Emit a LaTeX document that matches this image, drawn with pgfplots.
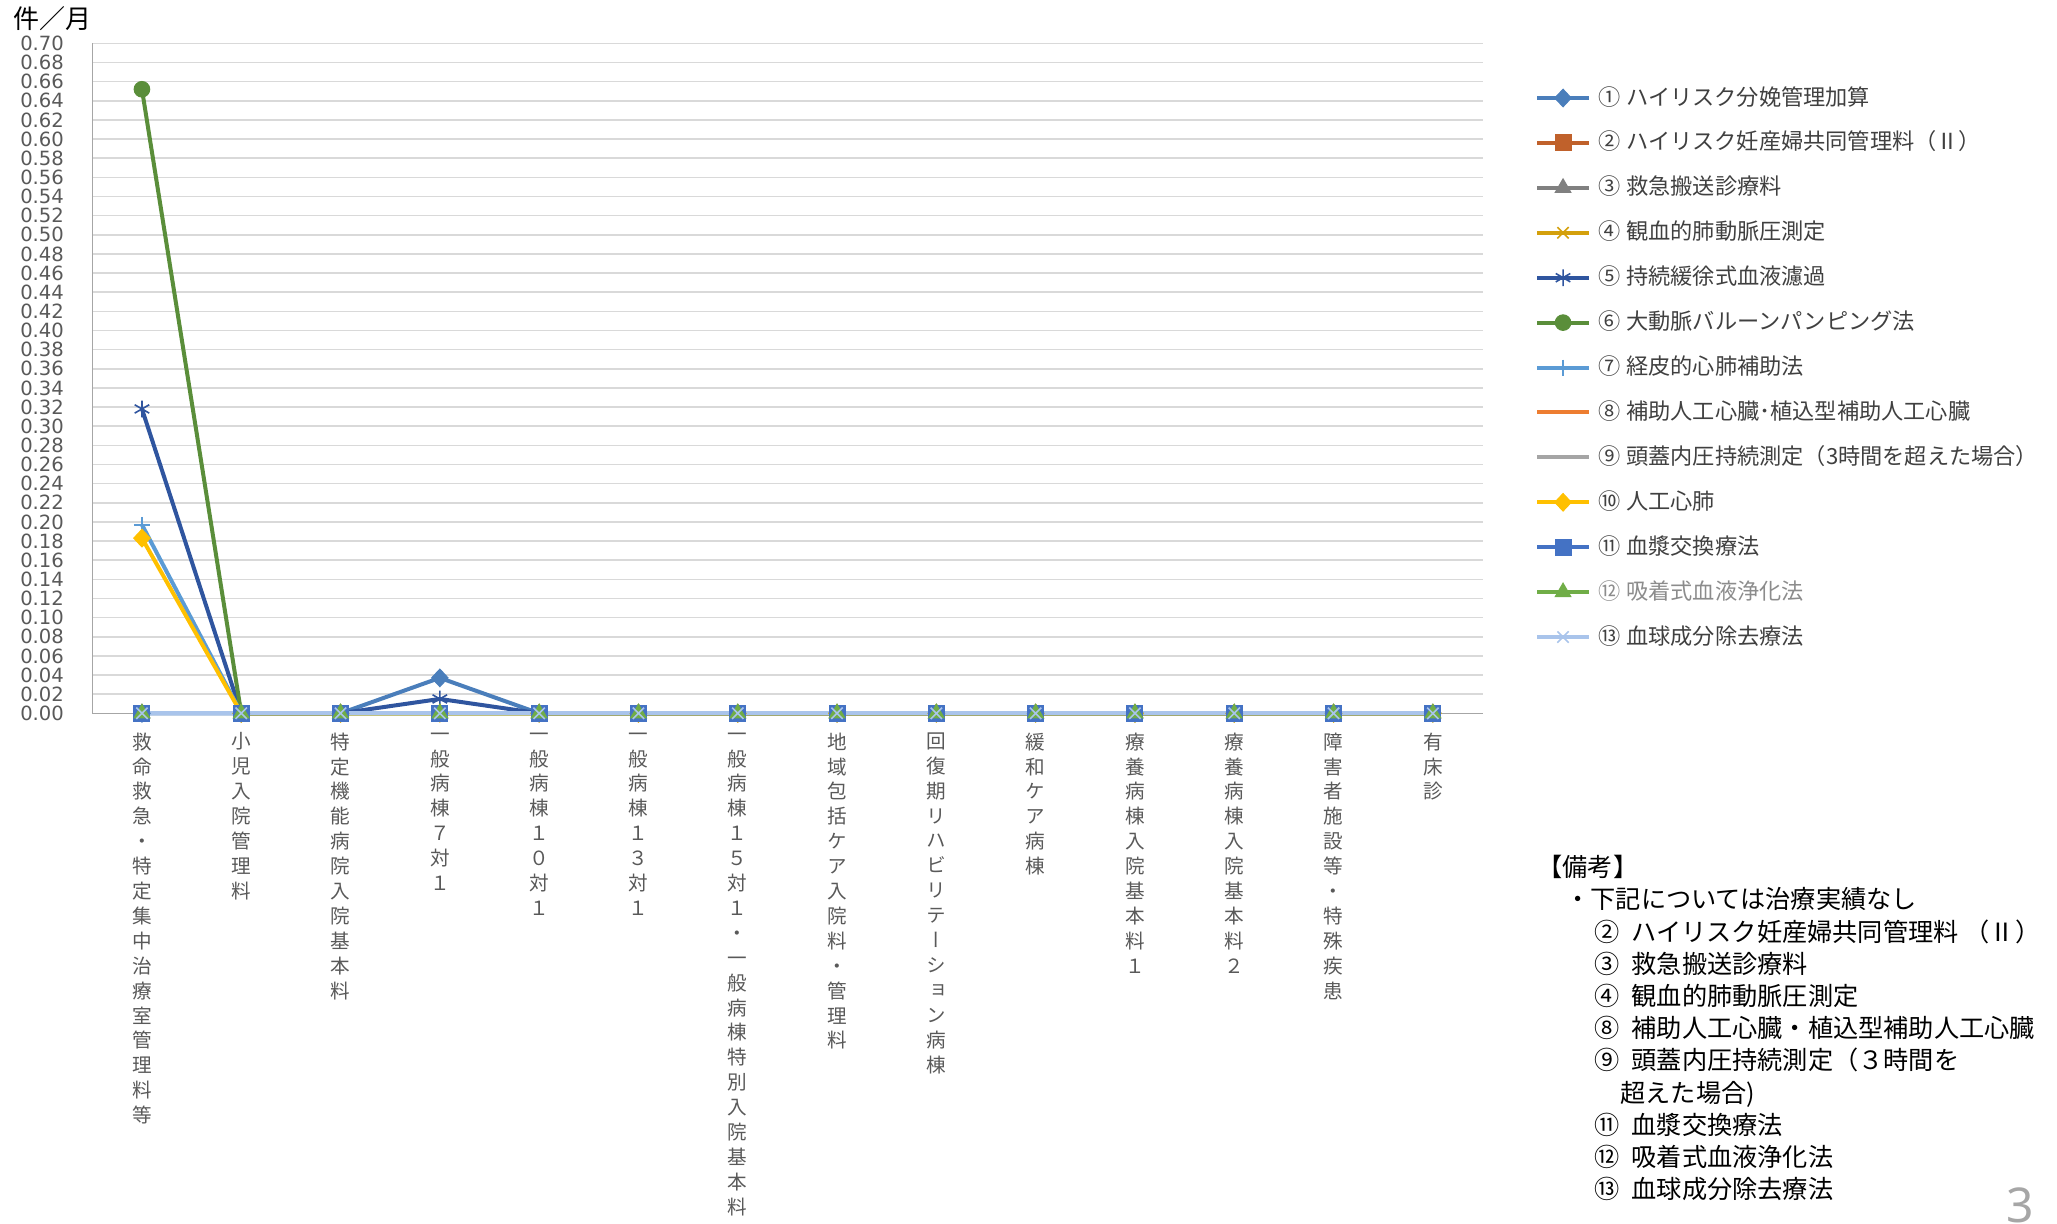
\documentclass[border=0pt]{standalone}
\usepackage{fontspec}
\usepackage{pgfplots}
\usepackage{pgfplotstable}
\pgfplotsset{compat=1.18}
\setmainfont{Noto Sans CJK JP}
\newfontfamily\cjkv{Noto Sans CJK JP}[RawFeature=+vert]
\newfontfamily\numfont{DejaVu Sans}
\newfontfamily\pagefont{Noto Sans}

% stack the characters of a label one under the other
\ExplSyntaxOn
\seq_new:N \l_vt_seq
\NewDocumentCommand{\vt}{m}{
  \seq_clear:N \l_vt_seq
  \tl_map_inline:nn {#1} { \seq_put_right:Nn \l_vt_seq {##1} }
  \seq_use:Nn \l_vt_seq { \\ }
}
\ExplSyntaxOff

\definecolor{c1}{HTML}{4A7EBB}
\definecolor{c2}{HTML}{C0612B}
\definecolor{c3}{HTML}{808080}
\definecolor{c4}{HTML}{D4A00C}
\definecolor{c5}{HTML}{2F559F}
\definecolor{c6}{HTML}{5A8E3A}
\definecolor{c7}{HTML}{5B9BD5}
\definecolor{c8}{HTML}{ED7D31}
\definecolor{c9}{HTML}{A5A5A5}
\definecolor{c10}{HTML}{FFC000}
\definecolor{c11}{HTML}{4472C4}
\definecolor{c12}{HTML}{70AD47}
\definecolor{c13}{HTML}{A9C4EB}
\definecolor{gridc}{HTML}{D9D9D9}
\definecolor{axisc}{HTML}{A6A6A6}
\definecolor{tickc}{HTML}{595959}
\definecolor{legc}{HTML}{404040}
\definecolor{leg12}{HTML}{8C8C8C}
\definecolor{pagec}{HTML}{A6A6A6}

% values per ward category (0..13), one column per item
\pgfplotstableread{
x  s1    s2 s3 s4 s5    s6    s7    s8 s9 s10   s11 s12 s13
0  0     0  0  0  0.318 0.652 0.197 0  0  0.183 0   0   0
1  0     0  0  0  0     0     0     0  0  0     0   0   0
2  0     0  0  0  0     0     0     0  0  0     0   0   0
3  0.037 0  0  0  0.015 0     0     0  0  0     0   0   0
4  0     0  0  0  0     0     0     0  0  0     0   0   0
5  0     0  0  0  0     0     0     0  0  0     0   0   0
6  0     0  0  0  0     0     0     0  0  0     0   0   0
7  0     0  0  0  0     0     0     0  0  0     0   0   0
8  0     0  0  0  0     0     0     0  0  0     0   0   0
9  0     0  0  0  0     0     0     0  0  0     0   0   0
10 0     0  0  0  0     0     0     0  0  0     0   0   0
11 0     0  0  0  0     0     0     0  0  0     0   0   0
12 0     0  0  0  0     0     0     0  0  0     0   0   0
13 0     0  0  0  0     0     0     0  0  0     0   0   0
}\datatable

\begin{document}
\begin{tikzpicture}
\path[use as bounding box] (0,0) rectangle (1028.5pt,611.5pt);

\begin{axis}[
    at={(46.15pt,254.85pt)}, anchor=south west,
    scale only axis, width=695.1pt, height=335pt,
    xmin=-0.5, xmax=13.5, ymin=0, ymax=0.70,
    clip=false,
    xtick={0,...,13},
    xticklabels={
      \vt{救命救急・特定集中治療室管理料等},
      \vt{小児入院管理料},
      \vt{特定機能病院入院基本料},
      \vt{一般病棟７対１},
      \vt{一般病棟１０対１},
      \vt{一般病棟１３対１},
      \vt{一般病棟１５対１・一般病棟特別入院基本料},
      \vt{地域包括ケア入院料・管理料},
      \vt{回復期リハビリテーション病棟},
      \vt{緩和ケア病棟},
      \vt{療養病棟入院基本料１},
      \vt{療養病棟入院基本料２},
      \vt{障害者施設等・特殊疾患},
      \vt{有床診}},
    ytick={0,0.02,0.04,0.06,0.08,0.10,0.12,0.14,0.16,0.18,0.20,0.22,0.24,
           0.26,0.28,0.30,0.32,0.34,0.36,0.38,0.40,0.42,0.44,0.46,0.48,0.50,
           0.52,0.54,0.56,0.58,0.60,0.62,0.64,0.66,0.68,0.70},
    ymajorgrids,
    grid style={draw=gridc, line width=0.8pt},
    axis x line*=bottom, axis y line*=left,
    axis line style={draw=axisc, line width=0.6pt},
    major tick length=0pt,
    yticklabel style={font=\numfont\fontsize{9.8}{11}\selectfont, text=tickc,
      anchor=east, inner sep=0pt, xshift=-14pt,
      /pgf/number format/.cd, fixed, fixed zerofill, precision=2,
      assume math mode=true},
    xticklabel style={font=\cjkv\fontsize{9.8}{12.45}\selectfont, text=tickc,
      align=center, anchor=north, inner sep=0pt, yshift=-9.5pt},
    every axis plot/.append style={line width=2pt},
    legend image code/.code={
      \draw[mark repeat=2,mark phase=2] plot coordinates {(0pt,0pt)(13pt,0pt)(26pt,0pt)};},
    legend cell align=left,
    legend style={
      at={(axis description cs:1.0378,0.9348)}, anchor=north west,
      draw=none, fill=none, inner sep=0pt, outer sep=0pt,
      row sep=11.46pt, column sep=3.5pt,
      font=\fontsize{11.1}{13}\selectfont, text=legc,
      nodes={inner sep=0pt, text height=9pt, text depth=2pt}},
  ]
  \addplot[c1, mark=diamond*, mark size=4.4pt, mark options={fill=c1, line width=0.5pt, xscale=1.25}]
    table[x=x, y=s1] {\datatable};
  \addlegendentry{①\hspace{3pt}ハイリスク分娩管理加算}
  \addplot[c2, mark=square*, mark size=4pt, mark options={fill=c2, line width=0.5pt}]
    table[x=x, y=s2] {\datatable};
  \addlegendentry{②\hspace{3pt}ハイリスク妊産婦共同管理料（Ⅱ）}
  \addplot[c3, mark=triangle*, mark size=4.5pt, mark options={fill=c3, line width=0.5pt}]
    table[x=x, y=s3] {\datatable};
  \addlegendentry{③\hspace{3pt}救急搬送診療料}
  \addplot[c4, mark=x, mark size=4pt, mark options={line width=0.8pt}]
    table[x=x, y=s4] {\datatable};
  \addlegendentry{④\hspace{3pt}観血的肺動脈圧測定}
  \addplot[c5, mark=asterisk, mark size=4.2pt, mark options={line width=0.8pt}]
    table[x=x, y=s5] {\datatable};
  \addlegendentry{⑤\hspace{3pt}持続緩徐式血液濾過}
  \addplot[c6, mark=*, mark size=3.9pt, mark options={fill=c6, line width=0.5pt}]
    table[x=x, y=s6] {\datatable};
  \addlegendentry{⑥\hspace{3pt}大動脈バルーンパンピング法}
  \addplot[c7, mark=+, mark size=4pt, mark options={line width=0.8pt}]
    table[x=x, y=s7] {\datatable};
  \addlegendentry{⑦\hspace{3pt}経皮的心肺補助法}
  \addplot[c8, mark=none] table[x=x, y=s8] {\datatable};
  \addlegendentry{⑧\hspace{3pt}補助人工心臓･植込型補助人工心臓}
  \addplot[c9, mark=none] table[x=x, y=s9] {\datatable};
  \addlegendentry{⑨\hspace{3pt}頭蓋内圧持続測定（3時間を超えた場合）}
  \addplot[c10, mark=diamond*, mark size=4.4pt, mark options={fill=c10, line width=0.5pt, xscale=1.25}]
    table[x=x, y=s10] {\datatable};
  \addlegendentry{⑩\hspace{3pt}人工心肺}
  \addplot[c11, mark=square*, mark size=4pt, mark options={fill=c11, line width=0.5pt}]
    table[x=x, y=s11] {\datatable};
  \addlegendentry{⑪\hspace{3pt}血漿交換療法}
  \addplot[c12, mark=triangle*, mark size=4.5pt, mark options={fill=c12, line width=0.5pt}]
    table[x=x, y=s12] {\datatable};
  \addlegendentry{\textcolor{leg12}{⑫\hspace{3pt}吸着式血液浄化法}}
  \addplot[c13, mark=x, mark size=4pt, mark options={line width=0.8pt}]
    table[x=x, y=s13] {\datatable};
  \addlegendentry{⑬\hspace{3pt}血球成分除去療法}
\end{axis}

% unit of the value axis
\node[anchor=west, inner sep=0pt, font=\fontsize{13}{15}\selectfont]
  at (6.5pt,602.3pt) {件／月};

% remarks
\node[anchor=north west, align=left, inner sep=0pt,
      font=\fontsize{12.6}{16.1}\selectfont]
  at (768.5pt,184pt) {%
  【備考】\\
  \hspace*{14pt}・下記については治療実績なし\\
  \hspace*{28.5pt}②\hspace{6pt}ハイリスク妊産婦共同管理料\hspace{3pt}（Ⅱ）\\
  \hspace*{28.5pt}③\hspace{6pt}救急搬送診療料\\
  \hspace*{28.5pt}④\hspace{6pt}観血的肺動脈圧測定\\
  \hspace*{28.5pt}⑧\hspace{6pt}補助人工心臓・植込型補助人工心臓\\
  \hspace*{28.5pt}⑨\hspace{6pt}頭蓋内圧持続測定（３時間を\\
  \hspace*{41.5pt}超えた場合)\\
  \hspace*{28.5pt}⑪\hspace{6pt}血漿交換療法\\
  \hspace*{28.5pt}⑫\hspace{6pt}吸着式血液浄化法\\
  \hspace*{28.5pt}⑬\hspace{6pt}血球成分除去療法};

% page number, cut by the lower edge as in the slide
\node[anchor=north west, inner sep=0pt, text=pagec,
      font=\pagefont\fontsize{24}{26}\selectfont] at (1003pt,18pt) {3};
\end{tikzpicture}
\end{document}
